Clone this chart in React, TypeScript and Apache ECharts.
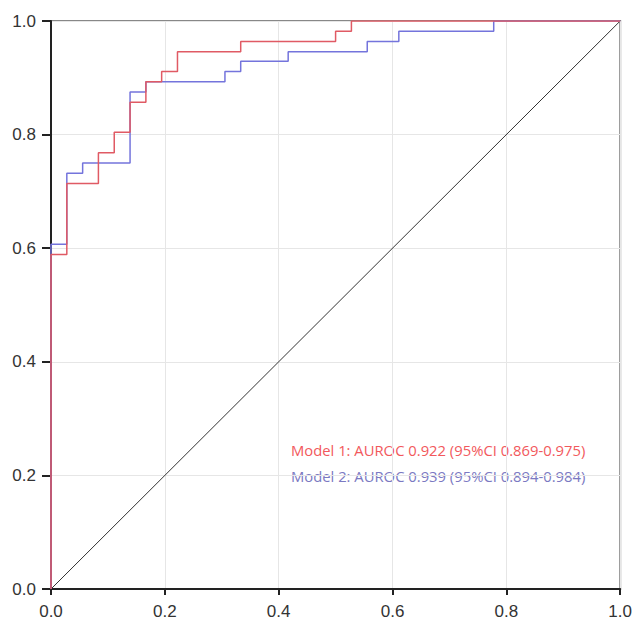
import React, { useEffect, useRef } from "react";
import * as echarts from "echarts";

const model1Fpr = [0, 0, 0.0278, 0.0278, 0.0833, 0.0833, 0.1111, 0.1111, 0.1389, 0.1389, 0.1667, 0.1667, 0.1944, 0.1944, 0.2222, 0.2222, 0.3333, 0.3333, 0.5, 0.5, 0.5278, 0.5278, 1];
const model1Tpr = [0, 0.589, 0.589, 0.714, 0.714, 0.768, 0.768, 0.804, 0.804, 0.857, 0.857, 0.893, 0.893, 0.911, 0.911, 0.946, 0.946, 0.964, 0.964, 0.982, 0.982, 1, 1];
const model2Fpr = [0, 0, 0.0278, 0.0278, 0.0556, 0.0556, 0.1389, 0.1389, 0.1667, 0.1667, 0.3056, 0.3056, 0.3333, 0.3333, 0.4167, 0.4167, 0.5556, 0.5556, 0.6111, 0.6111, 0.7778, 0.7778, 1];
const model2Tpr = [0, 0.607, 0.607, 0.732, 0.732, 0.75, 0.75, 0.875, 0.875, 0.893, 0.893, 0.911, 0.911, 0.929, 0.929, 0.946, 0.946, 0.964, 0.964, 0.982, 0.982, 1, 1];
const diagonal = [0, 1];
const legendTexts = [
  "Model 1: AUROC 0.922 (95%CI 0.869-0.975)",
  "Model 2: AUROC 0.939 (95%CI 0.894-0.984)",
];

const zip = (xs: number[], ys: number[]) => xs.map((x, i) => [x, ys[i]]);

export default function App() {
  const ref = useRef<HTMLDivElement>(null);
  useEffect(() => {
    document.body.style.margin = "0";
    const chart = echarts.init(ref.current!, null, { renderer: "svg" });
    const label = {
      color: "#333",
      fontSize: 17,
      fontFamily: "Liberation Sans",
      formatter: (v: number) => v.toFixed(1),
    };
    const common = {
      type: "value" as const,
      min: 0,
      max: 1,
      interval: 0.2,
      axisLine: { show: true, lineStyle: { color: "#222", width: 2 } },
      splitLine: { show: true, lineStyle: { color: "#e6e6e6", width: 1 } },
    };
    chart.setOption({
      animation: false,
      backgroundColor: "#fff",
      grid: {
        left: 51,
        top: 21,
        width: 571,
        height: 568,
        show: true,
        borderColor: "#888",
        borderWidth: 2,
        containLabel: false,
      },
      xAxis: {
        ...common,
        axisTick: { show: true, length: 6, lineStyle: { color: "#222", width: 2 } },
        axisLabel: { ...label, margin: 14 },
      },
      yAxis: {
        ...common,
        axisTick: { show: true, length: 9, lineStyle: { color: "#222", width: 2 } },
        axisLabel: { ...label, margin: 15 },
      },
      series: [
        {
          type: "line",
          data: zip(diagonal, diagonal),
          symbol: "none",
          lineStyle: { color: "#333", width: 1 },
          silent: true,
        },
        {
          type: "line",
          data: zip(model2Fpr, model2Tpr),
          symbol: "none",
          lineStyle: { color: "#7474dc", width: 1.5 },
        },
        {
          type: "line",
          data: zip(model1Fpr, model1Tpr),
          symbol: "none",
          lineStyle: { color: "#e05a64", width: 1.5 },
        },
      ],
      graphic: [
        {
          type: "text",
          left: 291,
          top: 442,
          style: { text: legendTexts[0], fill: "#f2585c", fontSize: 14.8, fontFamily: "Open Sans" },
        },
        {
          type: "text",
          left: 291,
          top: 468,
          style: { text: legendTexts[1], fill: "#7b79c2", fontSize: 14.8, fontFamily: "Open Sans" },
        },
      ],
    });
    return () => chart.dispose();
  }, []);
  return <div ref={ref} style={{ width: 635, height: 622 }} />;
}
